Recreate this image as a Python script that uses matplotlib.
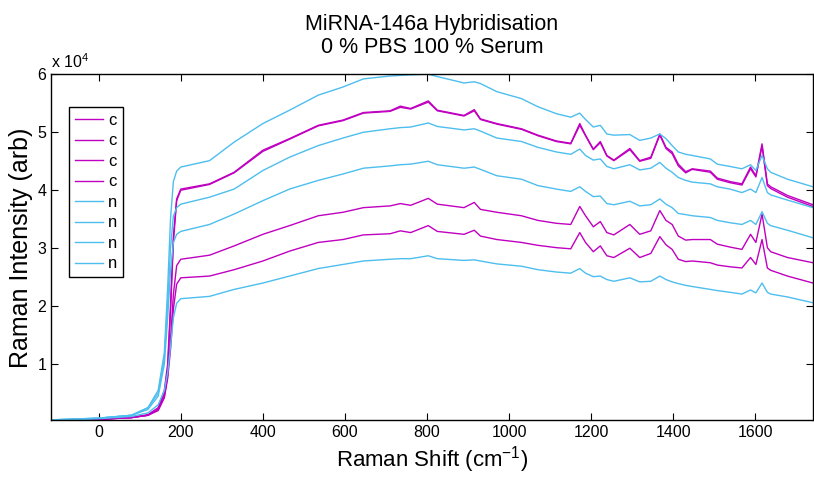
import matplotlib.pyplot as plt
from matplotlib.ticker import FuncFormatter

plt.rcParams['font.family'] = ['Liberation Sans', 'DejaVu Sans']
plt.rcParams['mathtext.default'] = 'regular'

# Raman shift axis (cm-1), shared by all spectra
shift = [-116, 0, 80, 120, 145, 160, 168, 175, 182, 190, 200,
         270, 330, 400, 465, 535, 595, 645, 710, 735, 760, 803, 825, 890, 915, 930,
         970, 1030, 1070, 1115, 1150, 1172, 1186, 1205, 1222, 1238, 1255, 1294, 1318,
         1345, 1367, 1382, 1397, 1412, 1430, 1446, 1490, 1507, 1538, 1567, 1588, 1601,
         1616, 1629, 1637, 1678, 1740]

# intensities in units of 1e4 counts
c1 = [0.03, 0.05, 0.08, 0.13, 0.25, 0.55, 1.00, 2.00, 3.20, 3.85, 4.02,
      4.11, 4.31, 4.69, 4.89, 5.12, 5.21, 5.34, 5.37, 5.45, 5.41, 5.54, 5.38, 5.29, 5.39, 5.23,
      5.15, 5.06, 4.95, 4.85, 4.81, 5.15, 4.95, 4.71, 4.84, 4.60, 4.52, 4.72, 4.51,
      4.57, 4.97, 4.74, 4.66, 4.45, 4.32, 4.37, 4.33, 4.21, 4.15, 4.11, 4.40, 4.25,
      4.80, 4.11, 4.06, 3.91, 3.75]
c2 = [0.03, 0.05, 0.08, 0.12, 0.22, 0.50, 0.90, 1.90, 3.10, 3.82, 4.00,
      4.10, 4.30, 4.67, 4.88, 5.11, 5.20, 5.33, 5.36, 5.43, 5.40, 5.52, 5.37, 5.28, 5.37, 5.22,
      5.14, 5.05, 4.94, 4.84, 4.80, 5.12, 4.94, 4.70, 4.82, 4.59, 4.51, 4.70, 4.50,
      4.55, 4.95, 4.72, 4.63, 4.42, 4.30, 4.36, 4.31, 4.19, 4.13, 4.09, 4.37, 4.23,
      4.76, 4.08, 4.03, 3.88, 3.72]
c3 = [0.03, 0.05, 0.08, 0.12, 0.22, 0.45, 0.80, 1.40, 2.20, 2.70, 2.81,
      2.88, 3.04, 3.24, 3.39, 3.56, 3.62, 3.70, 3.73, 3.77, 3.74, 3.86, 3.76, 3.70, 3.79, 3.67,
      3.62, 3.56, 3.48, 3.43, 3.41, 3.72, 3.56, 3.37, 3.46, 3.27, 3.23, 3.41, 3.24,
      3.30, 3.65, 3.48, 3.41, 3.21, 3.14, 3.15, 3.15, 3.07, 3.02, 2.98, 3.24, 3.10,
      3.59, 3.01, 2.94, 2.84, 2.75]
c4 = [0.03, 0.05, 0.08, 0.12, 0.20, 0.42, 0.75, 1.25, 1.95, 2.38, 2.49,
      2.52, 2.63, 2.78, 2.95, 3.10, 3.15, 3.23, 3.25, 3.30, 3.27, 3.39, 3.29, 3.24, 3.31, 3.21,
      3.15, 3.10, 3.05, 3.01, 2.99, 3.27, 3.10, 2.94, 3.04, 2.87, 2.84, 3.00, 2.84,
      2.91, 3.20, 3.06, 2.98, 2.81, 2.77, 2.78, 2.75, 2.71, 2.68, 2.66, 2.84, 2.72,
      3.15, 2.66, 2.62, 2.52, 2.40]
n1 = [0.04, 0.07, 0.12, 0.25, 0.55, 1.20, 2.30, 3.50, 4.15, 4.33, 4.40,
      4.51, 4.83, 5.15, 5.38, 5.64, 5.78, 5.92, 5.97, 5.98, 5.99, 6.00, 5.96, 5.85, 5.87, 5.84,
      5.70, 5.58, 5.44, 5.32, 5.26, 5.33, 5.22, 5.09, 5.12, 4.97, 4.95, 4.96, 4.86,
      4.90, 4.97, 4.89, 4.77, 4.66, 4.62, 4.60, 4.54, 4.45, 4.41, 4.37, 4.44, 4.34,
      4.60, 4.37, 4.31, 4.19, 4.06]
n2 = [0.04, 0.07, 0.12, 0.25, 0.50, 1.10, 2.00, 3.00, 3.55, 3.70, 3.76,
      3.88, 4.02, 4.34, 4.57, 4.77, 4.90, 5.00, 5.06, 5.08, 5.09, 5.16, 5.10, 5.04, 5.06, 5.02,
      4.90, 4.84, 4.74, 4.66, 4.62, 4.71, 4.60, 4.52, 4.54, 4.41, 4.37, 4.44, 4.35,
      4.38, 4.48, 4.38, 4.31, 4.22, 4.17, 4.14, 4.11, 4.06, 4.02, 3.96, 4.02, 3.96,
      4.22, 3.96, 3.92, 3.83, 3.70]
n3 = [0.04, 0.07, 0.12, 0.22, 0.45, 1.00, 1.80, 2.60, 3.10, 3.24, 3.29,
      3.41, 3.59, 3.82, 4.02, 4.17, 4.28, 4.38, 4.42, 4.44, 4.45, 4.50, 4.44, 4.38, 4.40, 4.36,
      4.25, 4.19, 4.08, 4.02, 3.98, 4.06, 3.98, 3.89, 3.90, 3.77, 3.75, 3.81, 3.73,
      3.75, 3.85, 3.76, 3.70, 3.60, 3.58, 3.56, 3.53, 3.48, 3.44, 3.41, 3.48, 3.41,
      3.63, 3.43, 3.39, 3.31, 3.18]
n4 = [0.03, 0.06, 0.10, 0.16, 0.30, 0.55, 0.85, 1.30, 1.80, 2.05, 2.13,
      2.17, 2.29, 2.40, 2.52, 2.65, 2.72, 2.78, 2.81, 2.82, 2.82, 2.87, 2.82, 2.79, 2.80, 2.78,
      2.73, 2.69, 2.63, 2.59, 2.57, 2.65, 2.57, 2.51, 2.52, 2.46, 2.43, 2.49, 2.42,
      2.43, 2.52, 2.46, 2.42, 2.39, 2.36, 2.34, 2.29, 2.27, 2.24, 2.21, 2.28, 2.23,
      2.40, 2.24, 2.21, 2.16, 2.06]

spectra_c = [c1, c2, c3, c4]
spectra_n = [n1, n2, n3, n4]
col_c = '#c000c0'
col_n = '#4dbeee'

fig = plt.figure(figsize=(8.14, 4.8), dpi=100)
ax = fig.add_axes([0.0627, 0.124, 0.936, 0.7213])

for s in spectra_c:
    ax.plot(shift, [v * 1e4 for v in s], color=col_c, lw=1.0, label='c')
for s in spectra_n:
    ax.plot(shift, [v * 1e4 for v in s], color=col_n, lw=1.0, label='n')

ax.set_xlim(-116, 1740)
ax.set_ylim(300, 60000)
ax.set_xticks(range(0, 1601, 200))
ax.set_yticks([10000, 20000, 30000, 40000, 50000, 60000])
ax.yaxis.set_major_formatter(FuncFormatter(lambda v, p: '%d' % round(v / 1e4)))
ax.tick_params(direction='in', length=5, width=0.8, top=True, right=True,
               labelsize=11.5, colors='black')
for sp in ax.spines.values():
    sp.set_linewidth(1.0)

ax.text(0.0, 1.008, 'x 10$^4$', transform=ax.transAxes, fontsize=11.5,
        ha='left', va='bottom')

ax.set_xlabel('Raman Shift (cm$^{-1}$)', fontsize=16, labelpad=3)
ax.set_ylabel('Raman Intensity (arb)', fontsize=18, labelpad=3)
ax.set_title('MiRNA-146a Hybridisation\n0 % PBS 100 % Serum', fontsize=15.5,
             linespacing=1.15, pad=15)

leg = ax.legend(loc='upper left', bbox_to_anchor=(0.0237, 0.905), borderaxespad=0,
                fontsize=12, handlelength=1.7, handletextpad=0.3, labelspacing=0.33,
                borderpad=0.35, fancybox=False, framealpha=1, edgecolor='black')
leg.get_frame().set_linewidth(1.0)

plt.savefig('out.png', dpi=100)
